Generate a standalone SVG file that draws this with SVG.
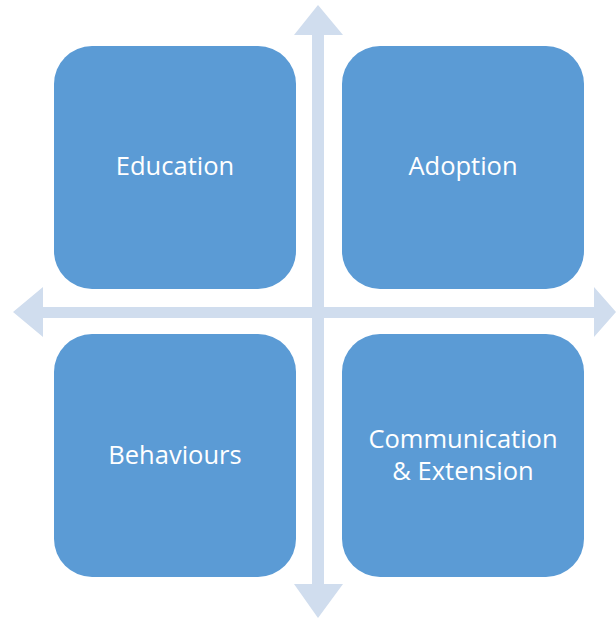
<svg xmlns="http://www.w3.org/2000/svg" width="616" height="618" viewBox="0 0 616 618">
<style>
.box{fill:#5B9BD5;}
.lbl{fill:#FFFFFF;font-family:"Open Sans","Liberation Sans",sans-serif;font-size:25.5px;text-anchor:middle;}
.arr{fill:#D0DDEE;}
</style>
<rect width="616" height="618" fill="#FFFFFF"/>
<g id="connectors">
<polygon class="arr" points="318,5 343,35 324,35 324,584 343,584 318,618 294,584 312,584 312,35 294,35"/>
<polygon class="arr" points="13,312 43,287 43,307 594,307 594,287 616,312 594,337 594,318 43,318 43,337"/>
</g>
<g id="education">
<rect class="box" x="54" y="46" width="242" height="243" rx="38"/>
<text class="lbl" x="175" y="175">Education</text>
</g>
<g id="adoption">
<rect class="box" x="342" y="46" width="242" height="243" rx="38"/>
<text class="lbl" x="463" y="175">Adoption</text>
</g>
<g id="behaviours">
<rect class="box" x="54" y="334" width="242" height="243" rx="38"/>
<text class="lbl" x="175" y="464">Behaviours</text>
</g>
<g id="communication">
<rect class="box" x="342" y="334" width="242" height="243" rx="38"/>
<text class="lbl" x="463" y="448">Communication</text>
<text class="lbl" x="463" y="480">&amp; Extension</text>
</g>
</svg>
